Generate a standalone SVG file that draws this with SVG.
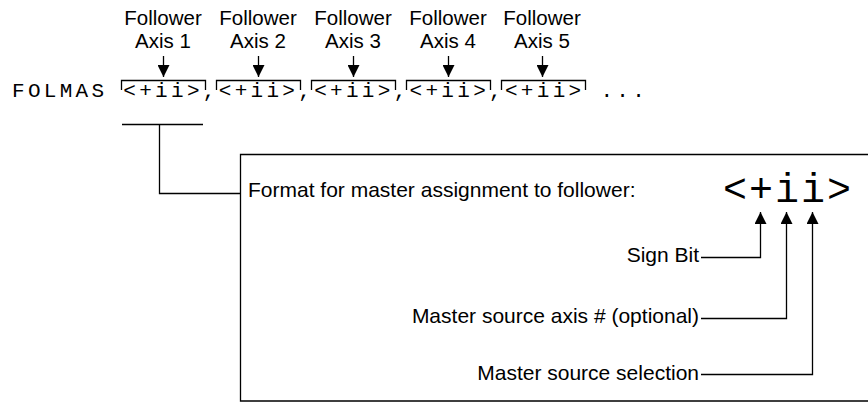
<svg xmlns="http://www.w3.org/2000/svg" width="868" height="402" viewBox="0 0 868 402">
<defs>
<style>
.lbl{font-family:"Liberation Sans",Arial,sans-serif;font-size:21px;fill:#000}
.hd{font-family:"Liberation Sans",Arial,sans-serif;font-size:20.5px;fill:#000;text-anchor:middle}
.mono{font-family:"Liberation Mono","Courier New",monospace;fill:#000}
.ln{fill:none;stroke:#000;stroke-width:1.3}
</style>
<marker id="ah" viewBox="0 0 12 12" refX="12" refY="6" markerWidth="12" markerHeight="12" markerUnits="userSpaceOnUse" orient="auto">
<path d="M0,0 L12,6 L0,12 Z" fill="#000"/>
</marker>
</defs>
<rect width="868" height="402" fill="#fff"/>
<g id="followers">
<g id="f1"><text class="hd" x="163" y="25">Follower</text><text class="hd" x="163" y="48">Axis 1</text></g>
<g id="f2"><text class="hd" x="258" y="25">Follower</text><text class="hd" x="258" y="48">Axis 2</text></g>
<g id="f3"><text class="hd" x="353" y="25">Follower</text><text class="hd" x="353" y="48">Axis 3</text></g>
<g id="f4"><text class="hd" x="448" y="25">Follower</text><text class="hd" x="448" y="48">Axis 4</text></g>
<g id="f5"><text class="hd" x="542" y="25">Follower</text><text class="hd" x="542" y="48">Axis 5</text></g>
</g>
<g id="command">
<text class="mono" x="12" y="97" font-size="21" letter-spacing="3.3" xml:space="preserve">FOLMAS &lt;+ii&gt;,&lt;+ii&gt;,&lt;+ii&gt;,&lt;+ii&gt;,&lt;+ii&gt; ...</text>
</g>
<g id="brackets">
<path class="ln" d="M121.5,90 V80.5 H205.5 V90"/>
<path class="ln" d="M216.5,90 V80.5 H300.5 V90"/>
<path class="ln" d="M311.5,90 V80.5 H395.5 V90"/>
<path class="ln" d="M406.5,90 V80.5 H490.5 V90"/>
<path class="ln" d="M501.5,90 V80.5 H585.5 V90"/>
</g>
<g id="formatbox">
<path class="ln" d="M870,154.5 H240.5 V401 H870"/>
<text class="lbl" x="248" y="197" font-size="24">Format for master assignment to follower:</text>
<text class="mono" x="723" y="202" font-size="40" letter-spacing="2">&lt;+ii&gt;</text>
</g>
<g id="fieldlabels">
<text class="lbl" x="699" y="262" text-anchor="end">Sign Bit</text>
<text class="lbl" x="699" y="323" text-anchor="end">Master source axis # (optional)</text>
<text class="lbl" x="699" y="380" text-anchor="end">Master source selection</text>
</g>
<g id="connectors">
<path class="ln" d="M163.5,56 V77" marker-end="url(#ah)"/>
<path class="ln" d="M258.5,56 V77" marker-end="url(#ah)"/>
<path class="ln" d="M353.5,56 V77" marker-end="url(#ah)"/>
<path class="ln" d="M448.5,56 V77" marker-end="url(#ah)"/>
<path class="ln" d="M542.5,56 V77" marker-end="url(#ah)"/>
<path class="ln" d="M122,124.5 H203"/>
<path class="ln" d="M159.5,124.5 V193.5 H240.5"/>
<path class="ln" d="M701,257.5 H760.5 V212" marker-end="url(#ah)"/>
<path class="ln" d="M701,318.5 H786.5 V212" marker-end="url(#ah)"/>
<path class="ln" d="M701,374.5 H812.5 V212" marker-end="url(#ah)"/>
</g>
</svg>
